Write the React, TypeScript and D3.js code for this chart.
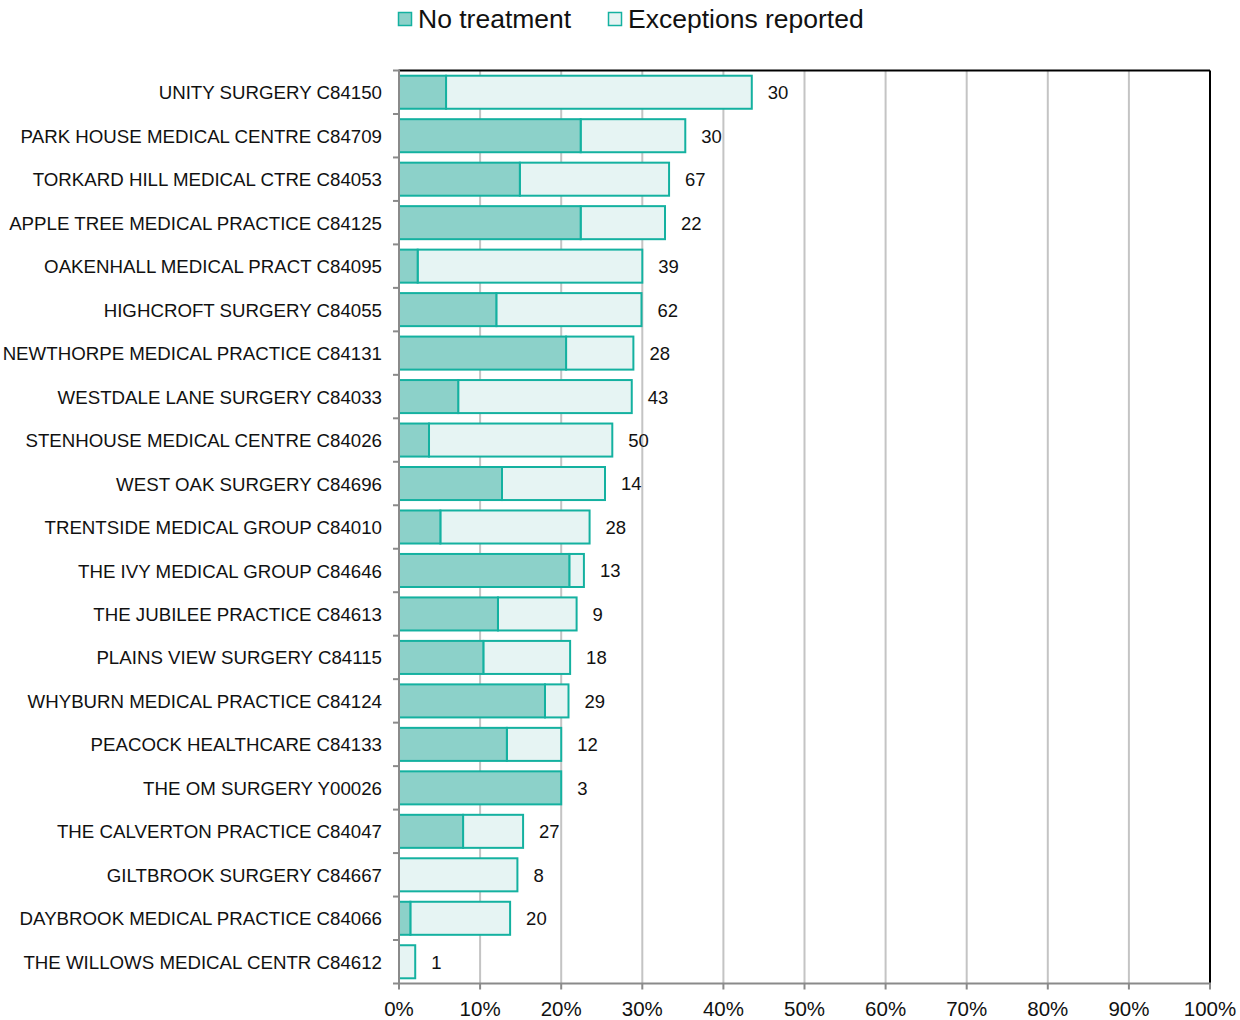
import React from "react";
import * as d3 from "d3";

const categories = [
  "UNITY SURGERY C84150",
  "PARK HOUSE MEDICAL CENTRE C84709",
  "TORKARD HILL MEDICAL CTRE C84053",
  "APPLE TREE MEDICAL PRACTICE C84125",
  "OAKENHALL MEDICAL PRACT C84095",
  "HIGHCROFT SURGERY C84055",
  "NEWTHORPE MEDICAL PRACTICE C84131",
  "WESTDALE LANE SURGERY C84033",
  "STENHOUSE MEDICAL CENTRE C84026",
  "WEST OAK SURGERY C84696",
  "TRENTSIDE MEDICAL GROUP C84010",
  "THE IVY MEDICAL GROUP C84646",
  "THE JUBILEE PRACTICE C84613",
  "PLAINS VIEW SURGERY C84115",
  "WHYBURN MEDICAL PRACTICE C84124",
  "PEACOCK HEALTHCARE C84133",
  "THE OM SURGERY Y00026",
  "THE CALVERTON PRACTICE C84047",
  "GILTBROOK SURGERY C84667",
  "DAYBROOK MEDICAL PRACTICE C84066",
  "THE WILLOWS MEDICAL CENTR C84612",
];

// percentages
const noTreatment = [5.8, 22.4, 14.9, 22.4, 2.3, 12.0, 20.6, 7.3, 3.7, 12.7, 5.1, 21.0, 12.2, 10.4, 18.0, 13.3, 20.0, 7.9, 0, 1.4, 0];
const exceptionsReported = [37.7, 12.9, 18.4, 10.4, 27.7, 17.9, 8.3, 21.4, 22.6, 12.7, 18.4, 1.8, 9.7, 10.7, 2.9, 6.7, 0, 7.4, 14.6, 12.3, 2.0];
const counts = [30, 30, 67, 22, 39, 62, 28, 43, 50, 14, 28, 13, 9, 18, 29, 12, 3, 27, 8, 20, 1];
const xTicks = [0, 10, 20, 30, 40, 50, 60, 70, 80, 90, 100];
const seriesNames = ["No treatment", "Exceptions reported"];

const FONT = "'Liberation Sans', Arial, Helvetica, sans-serif";
const DARK = "#8cd1c9";
const LIGHT = "#e6f4f3";
const STROKE = "#14b1a0";

export default function App() {
  const left = 399;
  const right = 1210;
  const top = 70.5;
  const bottom = 983.5;

  const x = d3.scaleLinear().domain([0, 100]).range([left, right]);
  const y = d3
    .scaleBand<string>()
    .domain(categories)
    .range([top, bottom])
    .paddingInner(0.24)
    .paddingOuter(0.12);

  const step = y.step();
  const boundaries = d3.range(categories.length + 1).map((i) => top + i * step);

  return (
    <div style={{ position: "absolute", left: 0, top: 0 }}>
      <svg width={1240} height={1020} style={{ display: "block", fontFamily: FONT }}>
        <rect width={1240} height={1020} fill="#fff" />
        {/* legend */}
        <g>
          <rect x={398.5} y={12.5} width={13} height={13} fill={DARK} stroke={STROKE} strokeWidth={1.5} />
          <text x={418} y={28} fontSize={26.5} fill="#111">{seriesNames[0]}</text>
          <rect x={608.5} y={12.5} width={13} height={13} fill={LIGHT} stroke={STROKE} strokeWidth={1.5} />
          <text x={628} y={28} fontSize={26.5} fill="#111">{seriesNames[1]}</text>
        </g>
        {/* gridlines */}
        {xTicks.slice(1, -1).map((t) => (
          <line key={t} x1={x(t)} x2={x(t)} y1={top} y2={bottom} stroke="#c4c4c4" strokeWidth={2} />
        ))}
        {/* top & right border */}
        <line x1={left} x2={right} y1={top} y2={top} stroke="#000" strokeWidth={2} />
        <line x1={right} x2={right} y1={top} y2={bottom} stroke="#000" strokeWidth={2} />
        {/* bars */}
        {categories.map((c, i) => {
          const y0 = y(c)!;
          const h = y.bandwidth();
          const a = noTreatment[i];
          const b = exceptionsReported[i];
          const total = a + b;
          return (
            <g key={c}>
              {b > 0 && (
                <rect x={x(a)} y={y0} width={x(a + b) - x(a)} height={h} fill={LIGHT} stroke={STROKE} strokeWidth={2} />
              )}
              {a > 0 && (
                <rect x={x(0)} y={y0} width={x(a) - x(0)} height={h} fill={DARK} stroke={STROKE} strokeWidth={2} />
              )}
              <text x={x(total) + 16} y={y0 + h / 2 + 0.5} dy="0.35em" fontSize={18.5} fill="#111">
                {counts[i]}
              </text>
              <text x={382} y={y0 + h / 2 + 0.5} dy="0.35em" fontSize={18.7} fill="#111" textAnchor="end">
                {c}
              </text>
            </g>
          );
        })}
        {/* left axis */}
        <line x1={left} x2={left} y1={top - 1} y2={bottom} stroke="#8a8a8a" strokeWidth={2} />
        {boundaries.map((b, i) => (
          <line key={i} x1={left - 6} x2={left} y1={b} y2={b} stroke="#8a8a8a" strokeWidth={2} />
        ))}
        {/* bottom axis */}
        <line x1={left - 1} x2={right + 1} y1={bottom} y2={bottom} stroke="#8a8a8a" strokeWidth={2} />
        {xTicks.map((t) => (
          <g key={t}>
            <line x1={x(t)} x2={x(t)} y1={bottom} y2={bottom + 6} stroke="#8a8a8a" strokeWidth={2} />
            <text x={x(t)} y={1016} fontSize={20.5} fill="#111" textAnchor="middle">
              {t + "%"}
            </text>
          </g>
        ))}
      </svg>
    </div>
  );
}
